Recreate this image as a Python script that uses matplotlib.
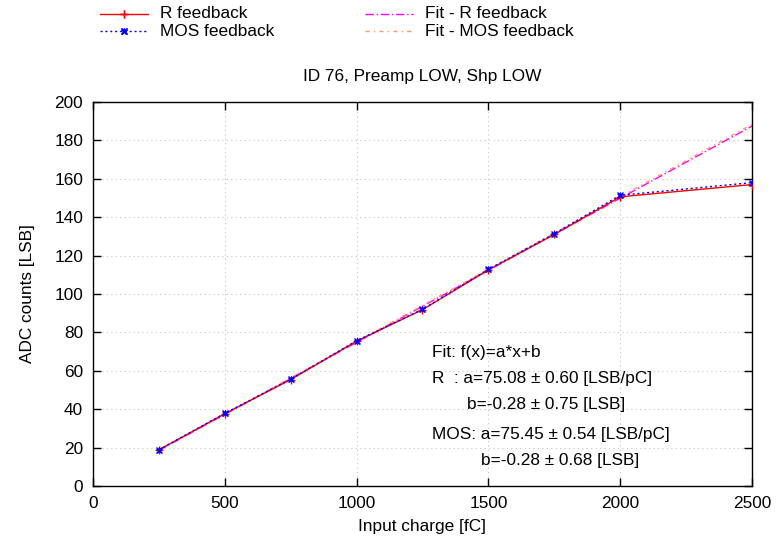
import matplotlib
matplotlib.use("Agg")
import matplotlib.pyplot as plt
from matplotlib.lines import Line2D
import numpy as np

FS = 12.4
plt.rcParams.update({
    "font.family": ["Liberation Sans", "DejaVu Sans"],
    "font.size": FS,
    "xtick.direction": "in",
    "ytick.direction": "in",
    "xtick.top": True,
    "ytick.right": True,
})

# ---- data ---------------------------------------------------------------
charge_fc = [250, 500, 750, 1000, 1250, 1500, 1750, 2000, 2500]
adc_r     = [18.8, 37.6, 55.4, 75.4, 91.8, 112.5, 131.0, 150.6, 157.0]
adc_mos   = [18.8, 37.8, 55.6, 75.6, 92.0, 112.8, 131.4, 151.4, 158.0]

fit_r   = (75.08, -0.28)     # a [LSB/pC], b [LSB]
fit_mos = (75.45, -0.28)
fit_range = (250, 2500)

RED = "#ff0000"
BLUE = "#0000ff"
MAG = "#ff00ff"
SALMON = "#ff9a70"

fig = plt.figure(figsize=(7.76, 5.46), dpi=100)
ax = fig.add_axes([0.1198, 0.110, 0.8492, 0.7032])

xf = np.array(fit_range, dtype=float)
ax.plot(xf, fit_r[0] * xf / 1000 + fit_r[1], color=MAG, lw=1.0,
        dashes=(6, 2, 1, 2), zorder=2)
ax.plot(xf, fit_mos[0] * xf / 1000 + fit_mos[1], color=SALMON, lw=1.0,
        dashes=(3, 3, 1, 3), zorder=2)
ax.plot(charge_fc, adc_r, color=RED, lw=1.0, marker="+", ms=6, mew=1.0, zorder=3)
ax.plot(charge_fc, adc_mos, color=BLUE, lw=1.0, ls=(0, (1.5, 2)), marker="*",
        ms=5, mew=0.6, mfc="none", zorder=3)
ax.plot(charge_fc, adc_mos, color=BLUE, lw=0, marker="x", ms=4.5, mew=1.0, zorder=3)

ax.set_xlim(0, 2500)
ax.set_ylim(0, 200)
ax.set_xticks(range(0, 2501, 500))
ax.set_yticks(range(0, 201, 20))
ax.grid(True, color="#c4c4c4", ls=(0, (1, 3)), lw=0.8)
ax.tick_params(length=6, width=1, pad=7)
for s in ax.spines.values():
    s.set_linewidth(1.0)
ax.set_xlabel("Input charge [fC]", labelpad=6)
ax.set_ylabel("ADC counts [LSB]", labelpad=14)
ax.set_title("ID 76, Preamp LOW, Shp LOW", pad=15, fontsize=FS)

# fit results box
txt = [
    (432, 352, "Fit: f(x)=a*x+b"),
    (432, 379, "R  : a=%.2f \u00b1 0.60 [LSB/pC]" % fit_r[0]),
    (467, 405, "b=%.2f \u00b1 0.75 [LSB]" % fit_r[1]),
    (432, 434, "MOS: a=%.2f \u00b1 0.54 [LSB/pC]" % fit_mos[0]),
    (481, 461, "b=%.2f \u00b1 0.68 [LSB]" % fit_mos[1]),
]
for px, py, s in txt:
    fig.text(px / 776, 1 - py / 546, s, ha="left", va="center", fontsize=FS)

# legend drawn manually at the top
def handle(x0, x1, y, **kw):
    fy = 1 - y / 546
    fig.add_artist(Line2D([x0 / 776, x1 / 776], [fy, fy], **kw))

handle(100, 148, 14, color=RED, lw=1.0)
handle(124, 124, 14, color=RED, marker="+", ms=6, lw=0)
fig.text(160 / 776, 1 - 14 / 546, "R feedback", va="center", fontsize=FS)
handle(100, 148, 31, color=BLUE, lw=1.0, ls=(0, (1.5, 2)))
handle(124, 124, 31, color=BLUE, marker="x", ms=4.5, lw=0)
handle(124, 124, 31, color=BLUE, marker="*", ms=5, mfc="none", mew=0.6, lw=0)
fig.text(160 / 776, 1 - 31 / 546, "MOS feedback", va="center", fontsize=FS)
handle(365, 413, 14, color=MAG, lw=1.0, dashes=(6, 2, 1, 2))
fig.text(425 / 776, 1 - 14 / 546, "Fit - R feedback", va="center", fontsize=FS)
handle(365, 413, 31, color=SALMON, lw=1.0, dashes=(3, 3, 1, 3))
fig.text(425 / 776, 1 - 31 / 546, "Fit - MOS feedback", va="center", fontsize=FS)

fig.savefig("out.png", dpi=100)
